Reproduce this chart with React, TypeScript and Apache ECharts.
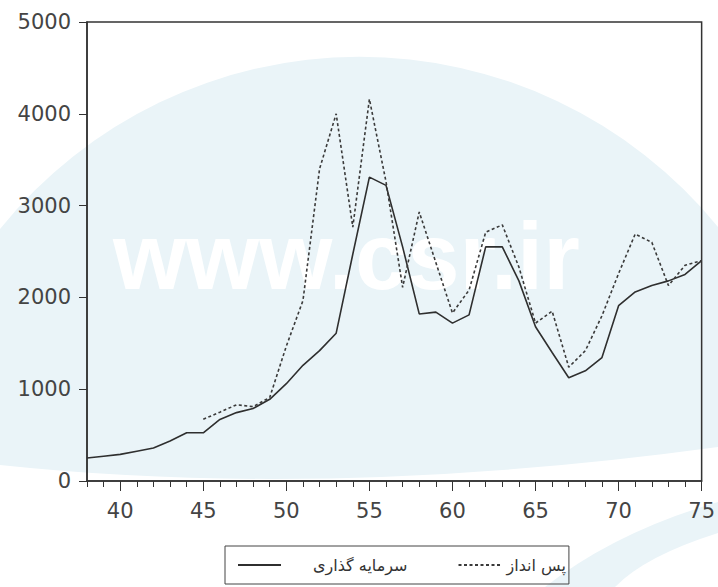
import React, { useEffect, useRef } from "react";
import * as echarts from "echarts";

const years = ["38","39","40","41","42","43","44","45","46","47","48","49","50","51","52","53","54","55","56","57","58","59","60","61","62","63","64","65","66","67","68","69","70","71","72","73","74","75"];

const investmentName = "سرمایه گذاری";
const savingsName = "پس انداز";

const investment = [250, 270, 290, 325, 360, 435, 525, 525, 670, 745, 790, 890, 1060, 1260, 1420, 1610, 2470, 3310, 3220, 2550, 1820, 1840, 1720, 1810, 2550, 2550, 2180, 1680, 1400, 1125, 1200, 1345, 1910, 2060, 2130, 2180, 2250, 2400];

const savings = [null, null, null, null, null, null, null, 673, 750, 830, 810, 910, 1470, 1965, 3400, 4000, 2765, 4160, 3260, 2110, 2930, 2380, 1830, 2080, 2710, 2790, 2330, 1720, 1850, 1240, 1420, 1800, 2260, 2690, 2600, 2130, 2350, 2400];

const watermark = "www.csr.ir";

echarts.graphic.registerShape(
  "bgShape",
  echarts.graphic.extendPath("M 0 229 A 462 462 0 0 1 718 227 L 718 447 Q 330 500 0 465 Z", {})
);
echarts.graphic.registerShape(
  "bgSwoosh",
  echarts.graphic.extendPath("M 545 587 Q 615 532 718 502 L 718 533 Q 645 556 615 587 Z", {})
);

const AXIS = "#333";
const LABEL = "#444";
const BLUE = "#eaf4f8";

export default function App() {
  const ref = useRef<HTMLDivElement>(null);
  useEffect(() => {
    if (!ref.current) return;
    const chart = echarts.init(ref.current, null, { renderer: "svg" });
    chart.setOption({
      animation: false,
      backgroundColor: "#ffffff",
      graphic: [
        { type: "bgShape", x: 0, y: 0, z: -10, silent: true, style: { fill: BLUE } },
        { type: "bgSwoosh", x: 0, y: 0, z: -10, silent: true, style: { fill: BLUE } },
        {
          type: "text",
          x: 113,
          y: 256,
          z: -9,
          silent: true,
          style: {
            text: watermark,
            fill: "#ffffff",
            fontFamily: "Liberation Sans",
            fontWeight: "bold",
            fontSize: 94,
            verticalAlign: "middle",
          },
        },
      ],
      grid: {
        left: 87,
        right: 11,
        top: 22,
        bottom: 106,
        show: true,
        borderColor: AXIS,
        borderWidth: 1.5,
        backgroundColor: "transparent",
      },
      legend: {
        left: 225,
        top: 546,
        orient: "horizontal",
        padding: [11, 3, 11, 12],
        borderColor: "#444",
        borderWidth: 1,
        itemWidth: 43,
        itemHeight: 14,
        itemGap: 50,
        itemStyle: { opacity: 0 },
        textStyle: { fontFamily: "DejaVu Sans", fontSize: 16, color: "#333" },
        data: [
          { name: investmentName, textStyle: { padding: [0, 0, 0, 27] } },
          { name: savingsName },
        ],
      },
      xAxis: [
        {
          type: "category",
          position: "bottom",
          data: years,
          boundaryGap: false,
          axisLine: { show: true, lineStyle: { color: AXIS, width: 1.5 } },
          axisTick: { show: true, interval: 0, length: 6, lineStyle: { color: AXIS } },
          axisLabel: {
            interval: (i: number, v: string) => Number(v) % 5 === 0,
            margin: 19,
            fontFamily: "DejaVu Sans",
            fontSize: 21,
            color: LABEL,
          },
          splitLine: { show: false },
        },
        {
          type: "category",
          position: "bottom",
          data: years,
          boundaryGap: false,
          axisLine: { show: false },
          axisTick: {
            show: true,
            interval: (i: number, v: string) => Number(v) % 5 === 0,
            length: 10,
            lineStyle: { color: AXIS },
          },
          axisLabel: { show: false },
          splitLine: { show: false },
        },
      ],
      yAxis: {
        type: "value",
        min: 0,
        max: 5000,
        interval: 1000,
        axisLine: { show: true, lineStyle: { color: AXIS, width: 1.5 } },
        axisTick: { show: true, length: 8, lineStyle: { color: AXIS } },
        axisLabel: {
          margin: 16,
          fontFamily: "DejaVu Sans",
          fontSize: 21,
          color: LABEL,
          formatter: (v: number) => String(v),
        },
        splitLine: { show: false },
      },
      series: [
        {
          name: investmentName,
          type: "line",
          xAxisIndex: 0,
          data: investment,
          symbol: "none",
          lineStyle: { color: "#2f2f2f", width: 1.6, type: "solid" },
          itemStyle: { color: "#2f2f2f" },
          z: 3,
        },
        {
          name: savingsName,
          type: "line",
          xAxisIndex: 0,
          data: savings,
          symbol: "none",
          connectNulls: false,
          lineStyle: { color: "#3a3a3a", width: 1.6, type: [3, 2.5] },
          itemStyle: { color: "#3a3a3a" },
          z: 3,
        },
      ],
    });
    return () => chart.dispose();
  }, []);
  return (
    <div
      ref={ref}
      style={{ position: "absolute", left: 0, top: 0, width: 718, height: 587 }}
    />
  );
}
